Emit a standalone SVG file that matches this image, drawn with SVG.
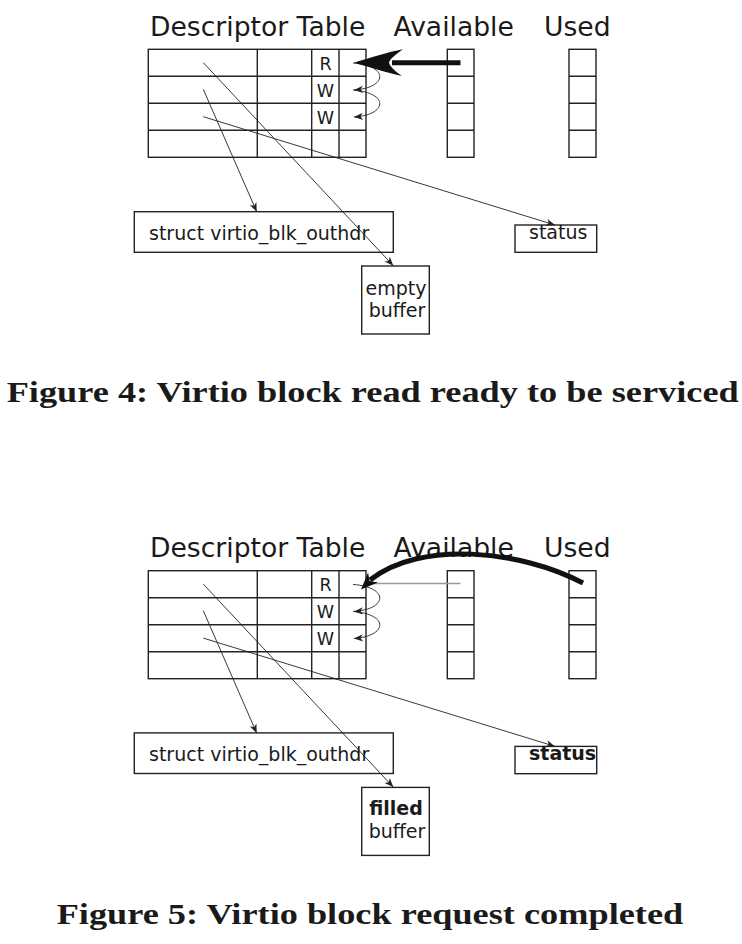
<svg xmlns="http://www.w3.org/2000/svg" width="742" height="944" viewBox="0 0 742 944">
<style>
.bg{fill:#fff}
.box{fill:#fff;stroke:#222;stroke-width:1.4}
.grid{fill:none;stroke:#222;stroke-width:1.4}
.title{font-family:"DejaVu Sans",sans-serif;font-size:26.6px;fill:#1a1a1a}
.lbl{font-family:"DejaVu Sans",sans-serif;font-size:19px;fill:#1a1a1a}
.rw{font-family:"DejaVu Sans",sans-serif;font-size:17.5px;fill:#1a1a1a;text-anchor:middle}
.b{font-weight:bold}
.thin{fill:none;stroke:#222;stroke-width:0.9}
.grey{fill:none;stroke:#999;stroke-width:1.3}
.thick{fill:none;stroke:#111;stroke-width:5}
.head{fill:#111}
.cap{font-family:"Liberation Serif",serif;font-weight:bold;font-size:30px;fill:#1a1a1a}
</style>
<defs>
<marker id="ah" viewBox="-10 -5 12 10" refX="0" refY="0" markerWidth="12" markerHeight="10" markerUnits="userSpaceOnUse" orient="auto">
<path d="M0,0 L-9,-3.6 L-6.5,0 L-9,3.6 Z" fill="#222"/>
</marker>
<g id="queues">
<rect class="grid" x="148.3" y="49.3" width="217.7" height="108"/>
<path class="grid" d="M148.3,76.3H366M148.3,103.3H366M148.3,130.3H366M257.3,49.3V157.3M311.7,49.3V157.3M339,49.3V157.3"/>
<rect class="grid" x="447.3" y="49.3" width="26.7" height="108"/>
<path class="grid" d="M447.3,76.3H474M447.3,103.3H474M447.3,130.3H474"/>
<rect class="grid" x="569" y="49.3" width="27" height="108"/>
<path class="grid" d="M569,76.3H596M569,103.3H596M569,130.3H596"/>
<text class="title" x="150" y="35.7">Descriptor Table</text>
<text class="title" x="393.5" y="35.7">Available</text>
<text class="title" x="544" y="35.7">Used</text>
<text class="rw" x="325.5" y="69.5">R</text>
<text class="rw" x="325.5" y="96.5">W</text>
<text class="rw" x="325.5" y="123.5">W</text>
</g>
</defs>
<rect class="bg" x="0" y="0" width="742" height="944"/>

<!-- Figure 4 -->
<g id="fig4">
<g id="fig4-tables"><use href="#queues"/></g>
<g id="fig4-struct"><rect class="box" x="134.3" y="211.7" width="259" height="40.6"/><text class="lbl" x="149" y="239.5">struct virtio_blk_outhdr</text></g>
<g id="fig4-status"><rect class="box" x="515" y="225" width="81.7" height="27.3"/><text class="lbl" x="529" y="238.5">status</text></g>
<g id="fig4-buffer"><rect class="box" x="361.7" y="266" width="67.6" height="68"/><text class="lbl" x="396" y="295" text-anchor="middle">empty</text><text class="lbl" x="397" y="316.7" text-anchor="middle">buffer</text></g>
<g id="fig4-connectors">
<line class="thin" x1="203.3" y1="62.7" x2="393.3" y2="265.7" marker-end="url(#ah)"/>
<line class="thin" x1="203.3" y1="89.3" x2="256.7" y2="211.7" marker-end="url(#ah)"/>
<line class="thin" x1="203.3" y1="116.7" x2="555" y2="225" marker-end="url(#ah)"/>
<path class="thin" d="M353,63 C390,66 387,88 354,90" marker-end="url(#ah)"/>
<path class="thin" d="M353,90 C390,93 387,115 354,117" marker-end="url(#ah)"/>
<line class="thick" x1="460.5" y1="62.8" x2="392" y2="62.8" stroke-width="4.5"/>
<path class="head" d="M354,62.7 C370,58 388,52 403,49.3 C395,55 390,59 389,62.7 C390,66.5 395,71 402,76 C388,73 370,67 354,62.7 Z"/>
</g>
<text class="cap" x="6.7" y="402" textLength="732" lengthAdjust="spacingAndGlyphs">Figure 4: Virtio block read ready to be serviced</text>
</g>

<!-- Figure 5 -->
<g id="fig5">
<g id="fig5-tables"><use href="#queues" y="521.4"/></g>
<g id="fig5-struct"><rect class="box" x="134.3" y="732.9" width="259" height="40.6"/><text class="lbl" x="149" y="760.7">struct virtio_blk_outhdr</text></g>
<g id="fig5-status"><rect class="box" x="515" y="746.4" width="81.7" height="27.3"/><text class="lbl b" x="529" y="759.7">status</text></g>
<g id="fig5-buffer"><rect class="box" x="361.7" y="787.4" width="67.6" height="68"/><text class="lbl b" x="396" y="815" text-anchor="middle">filled</text><text class="lbl" x="397" y="838" text-anchor="middle">buffer</text></g>
<g id="fig5-connectors">
<line class="thin" x1="203.3" y1="584.1" x2="393.3" y2="787.1" marker-end="url(#ah)"/>
<line class="thin" x1="203.3" y1="610.7" x2="256.7" y2="733.1" marker-end="url(#ah)"/>
<line class="thin" x1="203.3" y1="638.1" x2="555" y2="746.4" marker-end="url(#ah)"/>
<path class="thin" d="M353,584.4 C390,587.4 387,609.4 354,611.4" marker-end="url(#ah)"/>
<path class="thin" d="M353,611.4 C390,614.4 387,636.4 354,638.4" marker-end="url(#ah)"/>
<line class="grey" x1="460.5" y1="583.5" x2="368" y2="583.5"/>
<path class="thick" d="M583,583 C520,550 420,540 370,580"/>
<path class="head" d="M361,589.5 L368.1,572.6 L369.5,581 L377.9,582.4 Z"/>
</g>
<text class="cap" x="56.7" y="923.5" textLength="626.5" lengthAdjust="spacingAndGlyphs">Figure 5: Virtio block request completed</text>
</g>
</svg>
